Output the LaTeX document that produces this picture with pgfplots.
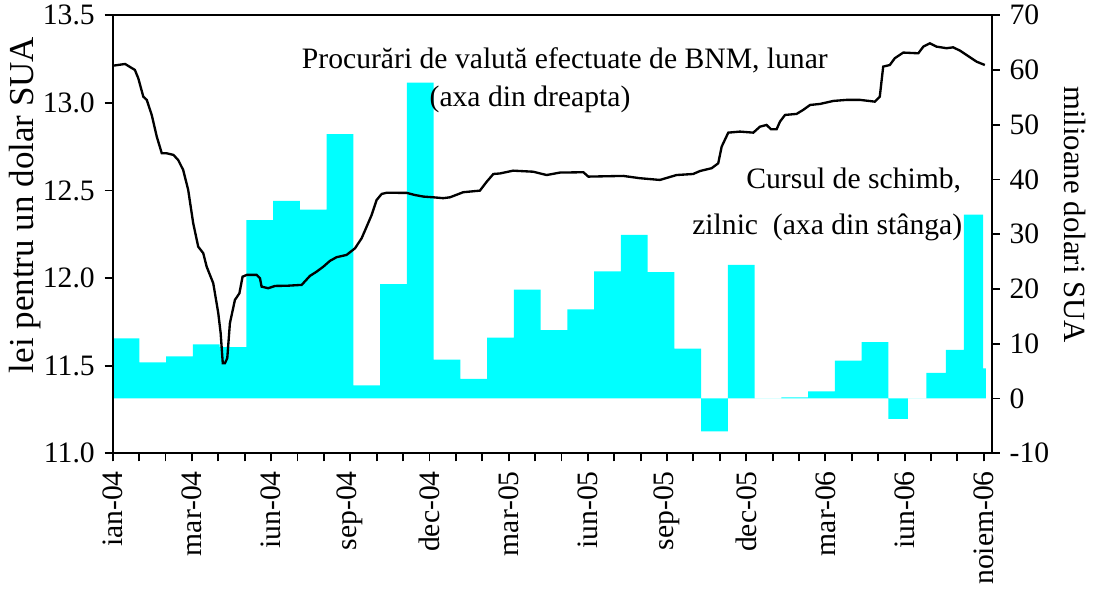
\documentclass[12pt,border=0pt]{standalone}
\usepackage{fontspec}
\setmainfont{Liberation Serif}
\usepackage{pgfplots}
\pgfplotsset{compat=1.18}
\definecolor{Aqua}{RGB}{0,255,255}

\begin{document}
\begin{tikzpicture}[font=\fontsize{12.7}{15}\selectfont]
\useasboundingbox (0,0) rectangle (469.7pt,255.4pt);
\pgfplotsset{
  common/.style={
    at={(48.3pt,61.16pt)}, anchor=south west,
    scale only axis, width=376.7pt, height=187.7pt,
    xmin=0, xmax=33.3,
    tick align=outside,
    major tick length=3.5pt, minor tick length=3.5pt,
    axis line style={line width=1pt},
    tick style={line width=0.8pt, black},
    /pgf/number format/assume math mode=true,
  }
}
% monthly purchases, right axis (drawn first so the line sits on top)
\begin{axis}[common,
  ymin=-10, ymax=70, ytick={-10,0,...,70},
  axis x line=none, axis y line*=right,
  ylabel={milioane dolari SUA},
  every axis y label/.style={at={(rel axis cs:1.0948,0.545)}, rotate=-90, anchor=center,
    font=\fontsize{13.2}{15}\selectfont},
]
\addplot[ybar interval, fill=Aqua, draw=none] coordinates {
  (0,11.0) (1.013,6.6) (2.027,7.7) (3.040,9.9) (4.053,9.4) (5.066,32.6)
  (6.080,36.1) (7.093,34.5) (8.106,48.3) (9.120,2.4) (10.133,20.9) (11.146,57.7)
  (12.160,7.1) (13.173,3.6) (14.186,11.1) (15.199,19.9) (16.213,12.5) (17.226,16.3)
  (18.239,23.2) (19.253,29.9) (20.266,23.1) (21.279,9.1) (22.293,-6.0) (23.306,24.4)
  (24.319,0) (25.333,0.2) (26.346,1.3) (27.359,6.9) (28.372,10.3) (29.39,-3.7)
  (30.12,0) (30.83,4.7) (31.56,8.9) (32.25,33.6) (32.98,5.5) (33.08,0)
};
\end{axis}
% daily exchange rate, left axis
\begin{axis}[common,
  ymin=11, ymax=13.5, ytick={11,11.5,12,12.5,13,13.5},
  yticklabel style={/pgf/number format/.cd, fixed, fixed zerofill, precision=1},
  xtick={0,3,...,33},
  xticklabels={ian-04,mar-04,iun-04,sep-04,dec-04,mar-05,iun-05,sep-05,dec-05,mar-06,iun-06,noiem-06},
  minor xtick={0,...,33},
  xtick pos=bottom, ytick pos=left,
  xticklabel style={rotate=90, anchor=east},
  ylabel={lei pentru un dolar SUA},
  every axis y label/.style={at={(rel axis cs:-0.0998,0.567)}, rotate=90, anchor=center,
    font=\fontsize{15}{17}\selectfont},
]
\addplot[black, line width=1pt] coordinates {
  (0.00,13.212) (0.47,13.222) (0.84,13.188) (0.97,13.14) (1.16,13.035) (1.29,13.017)
  (1.48,12.93) (1.67,12.807) (1.86,12.712) (2.05,12.712) (2.30,12.703) (2.48,12.674)
  (2.67,12.617) (2.86,12.503) (3.05,12.313) (3.24,12.179) (3.43,12.142) (3.56,12.065)
  (3.81,11.970) (4.00,11.799) (4.09,11.685) (4.17,11.514) (4.25,11.514) (4.34,11.542)
  (4.44,11.742) (4.63,11.875) (4.80,11.913) (4.92,12.008) (5.08,12.018) (5.45,12.018)
  (5.58,11.999) (5.64,11.951) (5.89,11.942) (6.15,11.955) (6.59,11.956) (7.16,11.961)
  (7.47,12.012) (7.73,12.037) (7.98,12.065) (8.23,12.098) (8.48,12.119) (8.86,12.132)
  (9.18,12.170) (9.43,12.227) (9.62,12.293) (9.81,12.360) (10.00,12.446) (10.19,12.480)
  (10.38,12.487) (11.14,12.486) (11.45,12.474) (11.77,12.465) (12.14,12.461) (12.52,12.456)
  (12.78,12.461) (13.28,12.490) (13.91,12.499) (14.17,12.550) (14.42,12.594) (14.67,12.597)
  (15.17,12.613) (15.93,12.607) (16.44,12.588) (16.94,12.602) (17.83,12.604) (18.02,12.579)
  (19.34,12.583) (19.97,12.570) (20.73,12.560) (21.36,12.588) (21.99,12.594) (22.25,12.611)
  (22.69,12.627) (22.94,12.655) (23.07,12.75) (23.32,12.830) (23.76,12.836) (24.27,12.830)
  (24.52,12.864) (24.77,12.874) (24.94,12.849) (25.15,12.849) (25.28,12.893) (25.47,12.931)
  (25.91,12.937) (26.16,12.960) (26.42,12.988) (26.80,12.994) (27.30,13.011) (27.80,13.017)
  (28.31,13.017) (28.87,13.007) (29.06,13.035) (29.19,13.207) (29.44,13.216) (29.63,13.255)
  (29.95,13.287) (30.52,13.283) (30.71,13.321) (30.96,13.340) (31.21,13.321) (31.59,13.312)
  (31.84,13.317) (32.10,13.298) (32.48,13.260) (32.73,13.235) (33.04,13.216)
};
\node[anchor=base, inner sep=0pt] at (axis cs:17.13,13.197) {Procurări de valută efectuate de BNM, lunar};
\node[anchor=base, inner sep=0pt] at (axis cs:15.81,12.982) {(axa din dreapta)};
\node[anchor=base east, inner sep=0pt] at (axis cs:32.16,12.513) {Cursul de schimb,};
\node[anchor=base east, inner sep=0pt] at (axis cs:32.20,12.246) {zilnic\ \ (axa din stânga)};
\end{axis}
\end{tikzpicture}
\end{document}
